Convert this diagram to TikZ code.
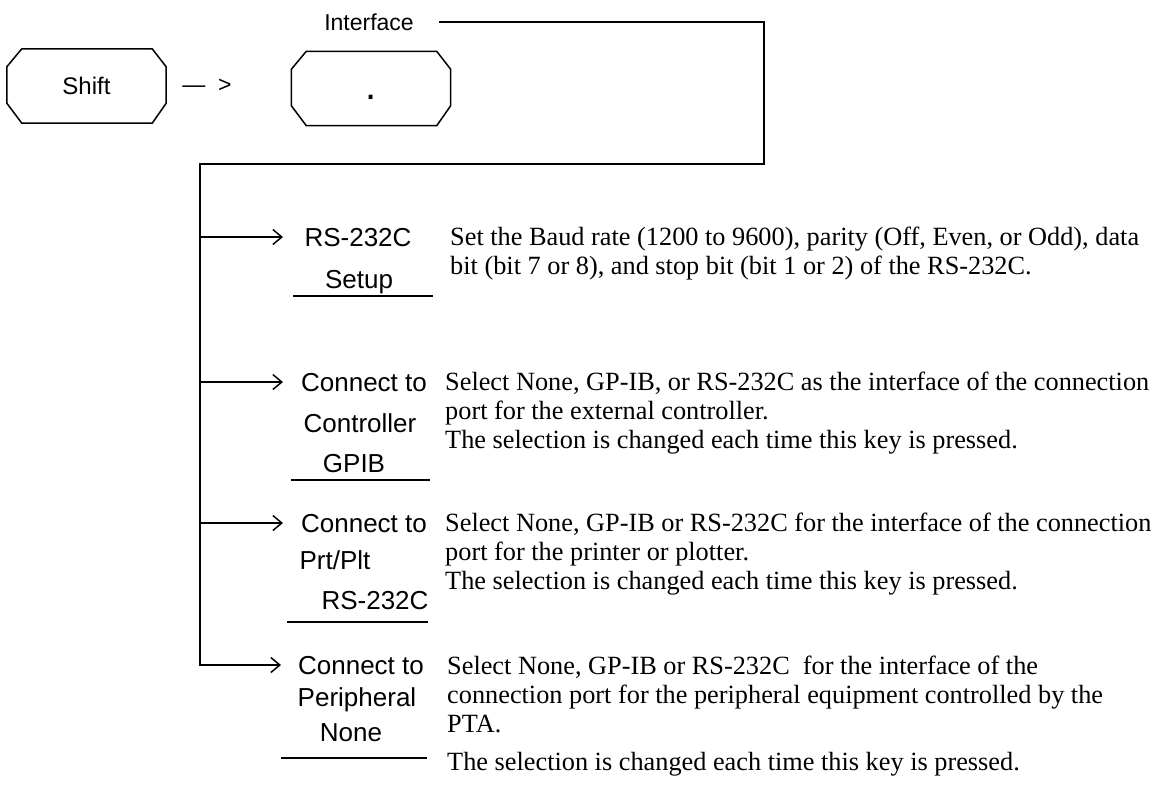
\documentclass[tikz,border=0pt]{standalone}
\usepackage{fontspec}
\setmainfont{Liberation Serif}
\setsansfont{Liberation Sans}
\usetikzlibrary{arrows.meta, positioning}
\tikzset{
  keycap/.style={rectangle, minimum width=159pt, minimum height=74pt, inner sep=0pt, font=\sffamily\fontsize{24}{28}\selectfont},
  softkey/.style={anchor=base, inner sep=0pt, font=\sffamily\fontsize{26}{30}\selectfont},
  descr/.style={anchor=north west, inner sep=0pt, align=left, font=\rmfamily\fontsize{26.3}{29}\selectfont},
  wire/.style={line width=1.5pt},
  arrow/.style={line width=1.5pt, -{Straight Barb[length=9pt, width=15pt, line width=1.5pt]}}
}
% chamfered outline of a front-panel key
\newcommand{\keyoutline}[1]{%
  \draw[wire] ([xshift=15pt]#1.north west) -- ([xshift=-14pt]#1.north east)
    -- ([yshift=-18pt]#1.north east) -- ([yshift=20pt]#1.south east)
    -- ([xshift=-14pt]#1.south east) -- ([xshift=15pt]#1.south west)
    -- ([yshift=20pt]#1.south west) -- ([yshift=-18pt]#1.north west) -- cycle;}

\begin{document}
\begin{tikzpicture}[x=1pt, y=-1pt]
\useasboundingbox (0,0) rectangle (1175,790);

% keys
\node[keycap] (shift) at (86.5,86) {Shift};
\keyoutline{shift}
\node[font=\sffamily\fontsize{23}{27}\selectfont, inner sep=0pt, right=16pt of shift] (then) {—\ \ >};
\node[keycap, text height=22pt, text depth=0pt] (point) at (371,88.5) {{\fontsize{40}{40}\selectfont .}};
\keyoutline{point}
\node[font=\sffamily\fontsize{23}{27}\selectfont, inner sep=0pt] (iface) at (369,22) {Interface};

% branch points and arrow ends
\coordinate (c2) at (764,164);
\coordinate (b1) at (200,237);
\coordinate (t1) at (283,237);
\coordinate (b2) at (200,382);
\coordinate (t2) at (283,382);
\coordinate (b3) at (200,523);
\coordinate (t3) at (283,523);
\coordinate (b4) at (200,665);
\coordinate (t4) at (281,665);

\draw[arrow] ([xshift=25pt]iface.east) -| (c2) -| (b4) -- (t4);
\draw[arrow] (b1) -- (t1);
\draw[arrow] (b2) -- (t2);
\draw[arrow] (b3) -- (t3);

% soft keys
\node[softkey] (k1a) at (358,246) {RS-232C};
\node[softkey] (k1b) at (359,288) {Setup};
\draw[wire] (293,296) -- (433,296);

\node[softkey] (k2a) at (364,391) {Connect to};
\node[softkey] (k2b) at (360,432) {Controller};
\node[softkey] (k2c) at (354,472) {GPIB};
\draw[wire] (291,480) -- (430,480);

\node[softkey] (k3a) at (364,532) {Connect to};
\node[softkey] (k3b) at (335,569) {Prt/Plt};
\node[softkey] (k3c) at (375,609) {RS-232C};
\draw[wire] (287,622) -- (428,622);

\node[softkey] (k4a) at (361,674) {Connect to};
\node[softkey] (k4b) at (357,706) {Peripheral};
\node[softkey] (k4c) at (351,741) {None};
\draw[wire] (281,758) -- (427,758);

% descriptions
\node[descr] (d1) at (450,227) {Set the Baud rate (1200 to 9600), parity (Off, Even, or Odd), data\\bit (bit 7 or 8), and stop bit (bit 1 or 2) of the RS-232C.};
\node[descr] (d2) at (445,372) {Select None, GP-IB, or RS-232C as the interface of the connection\\port for the external controller.\\The selection is changed each time this key is pressed.};
\node[descr] (d3) at (445,513) {Select None, GP-IB or RS-232C for the interface of the connection\\port for the printer or plotter.\\The selection is changed each time this key is pressed.};
\node[descr] (d4) at (447,656) {Select None, GP-IB or RS-232C~ for the interface of the\\connection port for the peripheral equipment controlled by the\\PTA.\\[9pt]The selection is changed each time this key is pressed.};
\end{tikzpicture}
\end{document}
